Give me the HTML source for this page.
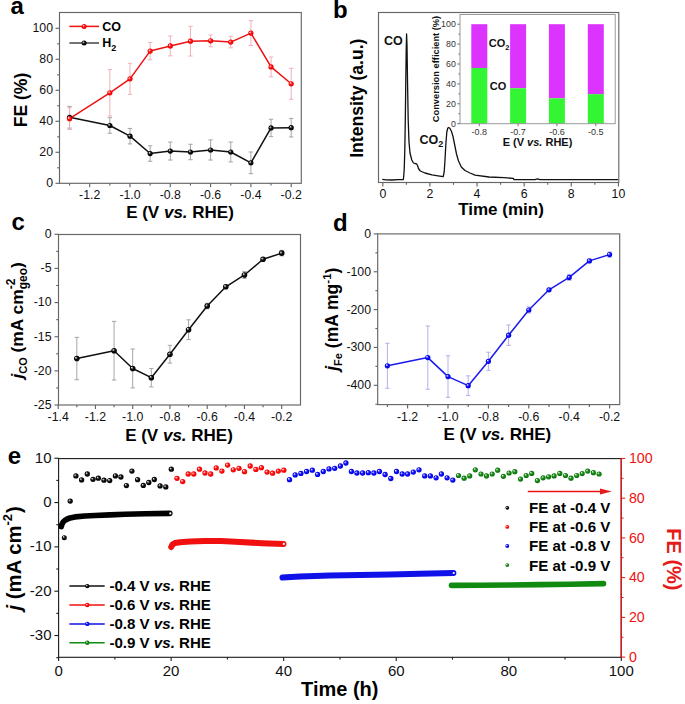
<!DOCTYPE html><html><head><meta charset="utf-8"><style>
html,body{margin:0;padding:0;background:#fff;width:685px;height:704px;overflow:hidden}
svg{display:block;font-family:"Liberation Sans", sans-serif}
</style></head><body>
<svg width="685" height="704" viewBox="0 0 685 704">
<defs>
<radialGradient id="gk" cx="50%" cy="50%" r="50%" fx="30%" fy="30%"><stop offset="0" stop-color="#fff"/><stop offset="0.22" stop-color="#999"/><stop offset="0.5" stop-color="#111"/><stop offset="1" stop-color="#000"/></radialGradient>
<radialGradient id="gr" cx="50%" cy="50%" r="50%" fx="30%" fy="30%"><stop offset="0" stop-color="#fff"/><stop offset="0.22" stop-color="#f99"/><stop offset="0.5" stop-color="#f11"/><stop offset="1" stop-color="#e00"/></radialGradient>
<radialGradient id="gb" cx="50%" cy="50%" r="50%" fx="30%" fy="30%"><stop offset="0" stop-color="#fff"/><stop offset="0.22" stop-color="#99f"/><stop offset="0.5" stop-color="#11f"/><stop offset="1" stop-color="#00d"/></radialGradient>
<radialGradient id="gg" cx="50%" cy="50%" r="50%" fx="30%" fy="30%"><stop offset="0" stop-color="#fff"/><stop offset="0.22" stop-color="#8c8"/><stop offset="0.5" stop-color="#1a8a1a"/><stop offset="1" stop-color="#0a700a"/></radialGradient>
</defs>
<rect width="685" height="704" fill="#fff"/>

<text x="10.5" y="14" font-size="24" text-anchor="start" font-weight="bold" fill="#000" >a</text>
<text x="333" y="17.7" font-size="24" text-anchor="start" font-weight="bold" fill="#000" >b</text>
<text x="11.5" y="229.5" font-size="24" text-anchor="start" font-weight="bold" fill="#000" >c</text>
<text x="333" y="230.8" font-size="24" text-anchor="start" font-weight="bold" fill="#000" >d</text>
<text x="7.8" y="464.1" font-size="24" text-anchor="start" font-weight="bold" fill="#000" >e</text>
<line x1="89.7" y1="183.3" x2="89.7" y2="187.3" stroke="#666" stroke-width="1.15" />
<text x="89.7" y="199.1" font-size="12.3" text-anchor="middle" font-weight="normal" fill="#111" >-1.2</text>
<line x1="130" y1="183.3" x2="130" y2="187.3" stroke="#666" stroke-width="1.15" />
<text x="130" y="199.1" font-size="12.3" text-anchor="middle" font-weight="normal" fill="#111" >-1.0</text>
<line x1="170.3" y1="183.3" x2="170.3" y2="187.3" stroke="#666" stroke-width="1.15" />
<text x="170.3" y="199.1" font-size="12.3" text-anchor="middle" font-weight="normal" fill="#111" >-0.8</text>
<line x1="210.6" y1="183.3" x2="210.6" y2="187.3" stroke="#666" stroke-width="1.15" />
<text x="210.6" y="199.1" font-size="12.3" text-anchor="middle" font-weight="normal" fill="#111" >-0.6</text>
<line x1="250.9" y1="183.3" x2="250.9" y2="187.3" stroke="#666" stroke-width="1.15" />
<text x="250.9" y="199.1" font-size="12.3" text-anchor="middle" font-weight="normal" fill="#111" >-0.4</text>
<line x1="291.2" y1="183.3" x2="291.2" y2="187.3" stroke="#666" stroke-width="1.15" />
<text x="291.2" y="199.1" font-size="12.3" text-anchor="middle" font-weight="normal" fill="#111" >-0.2</text>
<line x1="69.55" y1="183.3" x2="69.55" y2="185.6" stroke="#666" stroke-width="1.15" />
<line x1="109.85" y1="183.3" x2="109.85" y2="185.6" stroke="#666" stroke-width="1.15" />
<line x1="150.15" y1="183.3" x2="150.15" y2="185.6" stroke="#666" stroke-width="1.15" />
<line x1="190.45" y1="183.3" x2="190.45" y2="185.6" stroke="#666" stroke-width="1.15" />
<line x1="230.75" y1="183.3" x2="230.75" y2="185.6" stroke="#666" stroke-width="1.15" />
<line x1="271.05" y1="183.3" x2="271.05" y2="185.6" stroke="#666" stroke-width="1.15" />
<line x1="55.5" y1="183.3" x2="59.5" y2="183.3" stroke="#666" stroke-width="1.15" />
<text x="53" y="187.2" font-size="12.3" text-anchor="end" font-weight="normal" fill="#111" >0</text>
<line x1="55.5" y1="152.3" x2="59.5" y2="152.3" stroke="#666" stroke-width="1.15" />
<text x="53" y="156.2" font-size="12.3" text-anchor="end" font-weight="normal" fill="#111" >20</text>
<line x1="55.5" y1="121.3" x2="59.5" y2="121.3" stroke="#666" stroke-width="1.15" />
<text x="53" y="125.2" font-size="12.3" text-anchor="end" font-weight="normal" fill="#111" >40</text>
<line x1="55.5" y1="90.3" x2="59.5" y2="90.3" stroke="#666" stroke-width="1.15" />
<text x="53" y="94.2" font-size="12.3" text-anchor="end" font-weight="normal" fill="#111" >60</text>
<line x1="55.5" y1="59.3" x2="59.5" y2="59.3" stroke="#666" stroke-width="1.15" />
<text x="53" y="63.2" font-size="12.3" text-anchor="end" font-weight="normal" fill="#111" >80</text>
<line x1="55.5" y1="28.3" x2="59.5" y2="28.3" stroke="#666" stroke-width="1.15" />
<text x="53" y="32.2" font-size="12.3" text-anchor="end" font-weight="normal" fill="#111" >100</text>
<line x1="57.2" y1="167.8" x2="59.5" y2="167.8" stroke="#666" stroke-width="1.15" />
<line x1="57.2" y1="136.8" x2="59.5" y2="136.8" stroke="#666" stroke-width="1.15" />
<line x1="57.2" y1="105.8" x2="59.5" y2="105.8" stroke="#666" stroke-width="1.15" />
<line x1="57.2" y1="74.8" x2="59.5" y2="74.8" stroke="#666" stroke-width="1.15" />
<line x1="57.2" y1="43.8" x2="59.5" y2="43.8" stroke="#666" stroke-width="1.15" />
<rect x="59.5" y="12.5" width="241.8" height="170.8" fill="none" stroke="#666" stroke-width="1.15"/>
<line x1="69.55" y1="106.42" x2="69.55" y2="128.12" stroke="#9c9c9c" stroke-width="0.9" />
<line x1="67.35" y1="106.42" x2="71.75" y2="106.42" stroke="#9c9c9c" stroke-width="0.9" />
<line x1="67.35" y1="128.12" x2="71.75" y2="128.12" stroke="#9c9c9c" stroke-width="0.9" />
<line x1="109.85" y1="117.74" x2="109.85" y2="133.24" stroke="#9c9c9c" stroke-width="0.9" />
<line x1="107.65" y1="117.74" x2="112.05" y2="117.74" stroke="#9c9c9c" stroke-width="0.9" />
<line x1="107.65" y1="133.24" x2="112.05" y2="133.24" stroke="#9c9c9c" stroke-width="0.9" />
<line x1="130" y1="128.43" x2="130" y2="143.93" stroke="#9c9c9c" stroke-width="0.9" />
<line x1="127.8" y1="128.43" x2="132.2" y2="128.43" stroke="#9c9c9c" stroke-width="0.9" />
<line x1="127.8" y1="143.93" x2="132.2" y2="143.93" stroke="#9c9c9c" stroke-width="0.9" />
<line x1="150.15" y1="145.79" x2="150.15" y2="161.29" stroke="#9c9c9c" stroke-width="0.9" />
<line x1="147.95" y1="145.79" x2="152.35" y2="145.79" stroke="#9c9c9c" stroke-width="0.9" />
<line x1="147.95" y1="161.29" x2="152.35" y2="161.29" stroke="#9c9c9c" stroke-width="0.9" />
<line x1="170.3" y1="142.07" x2="170.3" y2="160.05" stroke="#9c9c9c" stroke-width="0.9" />
<line x1="168.1" y1="142.07" x2="172.5" y2="142.07" stroke="#9c9c9c" stroke-width="0.9" />
<line x1="168.1" y1="160.05" x2="172.5" y2="160.05" stroke="#9c9c9c" stroke-width="0.9" />
<line x1="190.45" y1="144.24" x2="190.45" y2="159.74" stroke="#9c9c9c" stroke-width="0.9" />
<line x1="188.25" y1="144.24" x2="192.65" y2="144.24" stroke="#9c9c9c" stroke-width="0.9" />
<line x1="188.25" y1="159.74" x2="192.65" y2="159.74" stroke="#9c9c9c" stroke-width="0.9" />
<line x1="210.6" y1="139.9" x2="210.6" y2="160.05" stroke="#9c9c9c" stroke-width="0.9" />
<line x1="208.4" y1="139.9" x2="212.8" y2="139.9" stroke="#9c9c9c" stroke-width="0.9" />
<line x1="208.4" y1="160.05" x2="212.8" y2="160.05" stroke="#9c9c9c" stroke-width="0.9" />
<line x1="230.75" y1="142.07" x2="230.75" y2="161.91" stroke="#9c9c9c" stroke-width="0.9" />
<line x1="228.55" y1="142.07" x2="232.95" y2="142.07" stroke="#9c9c9c" stroke-width="0.9" />
<line x1="228.55" y1="161.91" x2="232.95" y2="161.91" stroke="#9c9c9c" stroke-width="0.9" />
<line x1="250.9" y1="151.99" x2="250.9" y2="173.69" stroke="#9c9c9c" stroke-width="0.9" />
<line x1="248.7" y1="151.99" x2="253.1" y2="151.99" stroke="#9c9c9c" stroke-width="0.9" />
<line x1="248.7" y1="173.69" x2="253.1" y2="173.69" stroke="#9c9c9c" stroke-width="0.9" />
<line x1="271.05" y1="119.28" x2="271.05" y2="136.65" stroke="#9c9c9c" stroke-width="0.9" />
<line x1="268.85" y1="119.28" x2="273.25" y2="119.28" stroke="#9c9c9c" stroke-width="0.9" />
<line x1="268.85" y1="136.65" x2="273.25" y2="136.65" stroke="#9c9c9c" stroke-width="0.9" />
<line x1="291.2" y1="118.36" x2="291.2" y2="136.96" stroke="#9c9c9c" stroke-width="0.9" />
<line x1="289" y1="118.36" x2="293.4" y2="118.36" stroke="#9c9c9c" stroke-width="0.9" />
<line x1="289" y1="136.96" x2="293.4" y2="136.96" stroke="#9c9c9c" stroke-width="0.9" />
<line x1="69.55" y1="107.81" x2="69.55" y2="129.52" stroke="#f0b0b8" stroke-width="1.0" />
<line x1="67.35" y1="107.81" x2="71.75" y2="107.81" stroke="#f0b0b8" stroke-width="1.0" />
<line x1="67.35" y1="129.52" x2="71.75" y2="129.52" stroke="#f0b0b8" stroke-width="1.0" />
<line x1="109.85" y1="69.53" x2="109.85" y2="116.03" stroke="#f0b0b8" stroke-width="1.0" />
<line x1="107.65" y1="69.53" x2="112.05" y2="69.53" stroke="#f0b0b8" stroke-width="1.0" />
<line x1="107.65" y1="116.03" x2="112.05" y2="116.03" stroke="#f0b0b8" stroke-width="1.0" />
<line x1="130" y1="63.33" x2="130" y2="94.33" stroke="#f0b0b8" stroke-width="1.0" />
<line x1="127.8" y1="63.33" x2="132.2" y2="63.33" stroke="#f0b0b8" stroke-width="1.0" />
<line x1="127.8" y1="94.33" x2="132.2" y2="94.33" stroke="#f0b0b8" stroke-width="1.0" />
<line x1="150.15" y1="42.41" x2="150.15" y2="59.77" stroke="#f0b0b8" stroke-width="1.0" />
<line x1="147.95" y1="42.41" x2="152.35" y2="42.41" stroke="#f0b0b8" stroke-width="1.0" />
<line x1="147.95" y1="59.77" x2="152.35" y2="59.77" stroke="#f0b0b8" stroke-width="1.0" />
<line x1="170.3" y1="36.05" x2="170.3" y2="55.89" stroke="#f0b0b8" stroke-width="1.0" />
<line x1="168.1" y1="36.05" x2="172.5" y2="36.05" stroke="#f0b0b8" stroke-width="1.0" />
<line x1="168.1" y1="55.89" x2="172.5" y2="55.89" stroke="#f0b0b8" stroke-width="1.0" />
<line x1="190.45" y1="26.29" x2="190.45" y2="56.04" stroke="#f0b0b8" stroke-width="1.0" />
<line x1="188.25" y1="26.29" x2="192.65" y2="26.29" stroke="#f0b0b8" stroke-width="1.0" />
<line x1="188.25" y1="56.04" x2="192.65" y2="56.04" stroke="#f0b0b8" stroke-width="1.0" />
<line x1="210.6" y1="34.97" x2="210.6" y2="46.75" stroke="#f0b0b8" stroke-width="1.0" />
<line x1="208.4" y1="34.97" x2="212.8" y2="34.97" stroke="#f0b0b8" stroke-width="1.0" />
<line x1="208.4" y1="46.75" x2="212.8" y2="46.75" stroke="#f0b0b8" stroke-width="1.0" />
<line x1="230.75" y1="36.36" x2="230.75" y2="47.83" stroke="#f0b0b8" stroke-width="1.0" />
<line x1="228.55" y1="36.36" x2="232.95" y2="36.36" stroke="#f0b0b8" stroke-width="1.0" />
<line x1="228.55" y1="47.83" x2="232.95" y2="47.83" stroke="#f0b0b8" stroke-width="1.0" />
<line x1="250.9" y1="20.7" x2="250.9" y2="45.5" stroke="#f0b0b8" stroke-width="1.0" />
<line x1="248.7" y1="20.7" x2="253.1" y2="20.7" stroke="#f0b0b8" stroke-width="1.0" />
<line x1="248.7" y1="45.5" x2="253.1" y2="45.5" stroke="#f0b0b8" stroke-width="1.0" />
<line x1="271.05" y1="56.98" x2="271.05" y2="76.82" stroke="#f0b0b8" stroke-width="1.0" />
<line x1="268.85" y1="56.98" x2="273.25" y2="56.98" stroke="#f0b0b8" stroke-width="1.0" />
<line x1="268.85" y1="76.82" x2="273.25" y2="76.82" stroke="#f0b0b8" stroke-width="1.0" />
<line x1="291.2" y1="68.29" x2="291.2" y2="99.29" stroke="#f0b0b8" stroke-width="1.0" />
<line x1="289" y1="68.29" x2="293.4" y2="68.29" stroke="#f0b0b8" stroke-width="1.0" />
<line x1="289" y1="99.29" x2="293.4" y2="99.29" stroke="#f0b0b8" stroke-width="1.0" />
<polyline points="69.55,117.27 109.85,125.49 130,136.18 150.15,153.54 170.3,151.06 190.45,151.99 210.6,149.98 230.75,151.99 250.9,162.84 271.05,127.97 291.2,127.66" fill="none" stroke="#111" stroke-width="1.5" stroke-linejoin="round" />
<polyline points="69.55,118.67 109.85,92.78 130,78.83 150.15,51.09 170.3,45.97 190.45,41.16 210.6,40.85 230.75,42.1 250.9,33.1 271.05,66.9 291.2,83.79" fill="none" stroke="#ee1111" stroke-width="1.5" stroke-linejoin="round" />
<circle cx="69.55" cy="117.27" r="2.6" fill="url(#gk)"/>
<circle cx="109.85" cy="125.49" r="2.6" fill="url(#gk)"/>
<circle cx="130" cy="136.18" r="2.6" fill="url(#gk)"/>
<circle cx="150.15" cy="153.54" r="2.6" fill="url(#gk)"/>
<circle cx="170.3" cy="151.06" r="2.6" fill="url(#gk)"/>
<circle cx="190.45" cy="151.99" r="2.6" fill="url(#gk)"/>
<circle cx="210.6" cy="149.98" r="2.6" fill="url(#gk)"/>
<circle cx="230.75" cy="151.99" r="2.6" fill="url(#gk)"/>
<circle cx="250.9" cy="162.84" r="2.6" fill="url(#gk)"/>
<circle cx="271.05" cy="127.97" r="2.6" fill="url(#gk)"/>
<circle cx="291.2" cy="127.66" r="2.6" fill="url(#gk)"/>
<circle cx="69.55" cy="118.67" r="2.6" fill="url(#gr)"/>
<circle cx="109.85" cy="92.78" r="2.6" fill="url(#gr)"/>
<circle cx="130" cy="78.83" r="2.6" fill="url(#gr)"/>
<circle cx="150.15" cy="51.09" r="2.6" fill="url(#gr)"/>
<circle cx="170.3" cy="45.97" r="2.6" fill="url(#gr)"/>
<circle cx="190.45" cy="41.16" r="2.6" fill="url(#gr)"/>
<circle cx="210.6" cy="40.85" r="2.6" fill="url(#gr)"/>
<circle cx="230.75" cy="42.1" r="2.6" fill="url(#gr)"/>
<circle cx="250.9" cy="33.1" r="2.6" fill="url(#gr)"/>
<circle cx="271.05" cy="66.9" r="2.6" fill="url(#gr)"/>
<circle cx="291.2" cy="83.79" r="2.6" fill="url(#gr)"/>
<line x1="69.4" y1="26.4" x2="99" y2="26.4" stroke="#ee1111" stroke-width="1.5" />
<circle cx="84.1" cy="26.4" r="2.5" fill="url(#gr)"/>
<line x1="69.4" y1="43" x2="99" y2="43" stroke="#444" stroke-width="1.5" />
<circle cx="84.1" cy="43" r="2.5" fill="url(#gk)"/>
<text x="102.3" y="30.8" font-size="12.5" text-anchor="start" font-weight="bold" fill="#000" >CO</text>
<text x="102.3" y="47" font-size="12.5" text-anchor="start" font-weight="bold" fill="#000" >H<tspan font-size="9" dy="3.5">2</tspan></text>
<text x="180" y="217.5" font-size="17" text-anchor="middle" font-weight="bold" fill="#000" >E (V <tspan font-style="italic">vs.</tspan> RHE)</text>
<text transform="translate(27.2,100) rotate(-90)" font-size="17.6" font-weight="bold" text-anchor="middle" fill="#000">FE (%)</text>
<line x1="382.8" y1="182.5" x2="382.8" y2="186.5" stroke="#666" stroke-width="1.15" />
<text x="382.8" y="198.3" font-size="12.3" text-anchor="middle" font-weight="normal" fill="#111" >0</text>
<line x1="429.92" y1="182.5" x2="429.92" y2="186.5" stroke="#666" stroke-width="1.15" />
<text x="429.92" y="198.3" font-size="12.3" text-anchor="middle" font-weight="normal" fill="#111" >2</text>
<line x1="477.04" y1="182.5" x2="477.04" y2="186.5" stroke="#666" stroke-width="1.15" />
<text x="477.04" y="198.3" font-size="12.3" text-anchor="middle" font-weight="normal" fill="#111" >4</text>
<line x1="524.16" y1="182.5" x2="524.16" y2="186.5" stroke="#666" stroke-width="1.15" />
<text x="524.16" y="198.3" font-size="12.3" text-anchor="middle" font-weight="normal" fill="#111" >6</text>
<line x1="571.28" y1="182.5" x2="571.28" y2="186.5" stroke="#666" stroke-width="1.15" />
<text x="571.28" y="198.3" font-size="12.3" text-anchor="middle" font-weight="normal" fill="#111" >8</text>
<line x1="618.4" y1="182.5" x2="618.4" y2="186.5" stroke="#666" stroke-width="1.15" />
<text x="618.4" y="198.3" font-size="12.3" text-anchor="middle" font-weight="normal" fill="#111" >10</text>
<line x1="406.36" y1="182.5" x2="406.36" y2="184.8" stroke="#666" stroke-width="1.15" />
<line x1="453.48" y1="182.5" x2="453.48" y2="184.8" stroke="#666" stroke-width="1.15" />
<line x1="500.6" y1="182.5" x2="500.6" y2="184.8" stroke="#666" stroke-width="1.15" />
<line x1="547.72" y1="182.5" x2="547.72" y2="184.8" stroke="#666" stroke-width="1.15" />
<line x1="594.84" y1="182.5" x2="594.84" y2="184.8" stroke="#666" stroke-width="1.15" />
<rect x="378.5" y="12.5" width="240.3" height="170" fill="none" stroke="#666" stroke-width="1.15"/>
<polyline points="382.3,179.3 386,179.8 392,180 398,179.7 403.4,179.5 404.2,170 404.8,150 405.3,120 405.8,80 406.2,50 406.6,34 407,45 407.5,80 408.2,120 409,142 410,153 411.8,160 413.5,163 415,163.5 416.6,163.8 417.5,165.5 418.5,168.5 420.3,171 425,173 432,174.8 438,175.8 443.2,176.6 444.2,172 445,160 445.8,145 446.8,132 447.8,128 448.8,127.5 450,128.5 451.5,131.5 452.9,136 454.5,144 456.5,154 458.5,161 461.3,167 465,170.5 470,173 475,175.2 489,177 504,177.7 513.3,178.4 514,179.6 535,179.6 537.4,178.9 540,179.6 618,179.6" fill="none" stroke="#111" stroke-width="1.3" stroke-linejoin="round" />
<text x="384" y="45.4" font-size="12.5" text-anchor="start" font-weight="bold" fill="#111" >CO</text>
<text x="419.5" y="144.4" font-size="12.5" text-anchor="start" font-weight="bold" fill="#111" >CO<tspan font-size="9" dy="3">2</tspan></text>
<text x="501" y="215.2" font-size="17" text-anchor="middle" font-weight="bold" fill="#000" >Time (min)</text>
<text transform="translate(362.5,98.2) rotate(-90)" font-size="17.6" font-weight="bold" text-anchor="middle" fill="#000">Intensity (a.u.)</text>
<rect x="471.3" y="24.2" width="16" height="43.78" fill="#dd33ff" stroke="none" stroke-width="1"/>
<rect x="471.3" y="67.98" width="16" height="55.72" fill="#33f533" stroke="none" stroke-width="1"/>
<rect x="510.1" y="24.2" width="16" height="64.08" fill="#dd33ff" stroke="none" stroke-width="1"/>
<rect x="510.1" y="88.28" width="16" height="35.42" fill="#33f533" stroke="none" stroke-width="1"/>
<rect x="548.9" y="24.2" width="16" height="74.13" fill="#dd33ff" stroke="none" stroke-width="1"/>
<rect x="548.9" y="98.33" width="16" height="25.37" fill="#33f533" stroke="none" stroke-width="1"/>
<rect x="587.8" y="24.2" width="16" height="69.95" fill="#dd33ff" stroke="none" stroke-width="1"/>
<rect x="587.8" y="94.15" width="16" height="29.55" fill="#33f533" stroke="none" stroke-width="1"/>
<rect x="460" y="14.5" width="155.2" height="109.2" fill="none" stroke="#999" stroke-width="1"/>
<line x1="457.2" y1="123.7" x2="460" y2="123.7" stroke="#777" stroke-width="1" />
<text x="455.8" y="126.9" font-size="8.8" text-anchor="end" font-weight="normal" fill="#333" >0</text>
<line x1="457.2" y1="103.8" x2="460" y2="103.8" stroke="#777" stroke-width="1" />
<text x="455.8" y="107" font-size="8.8" text-anchor="end" font-weight="normal" fill="#333" >20</text>
<line x1="457.2" y1="83.9" x2="460" y2="83.9" stroke="#777" stroke-width="1" />
<text x="455.8" y="87.1" font-size="8.8" text-anchor="end" font-weight="normal" fill="#333" >40</text>
<line x1="457.2" y1="64" x2="460" y2="64" stroke="#777" stroke-width="1" />
<text x="455.8" y="67.2" font-size="8.8" text-anchor="end" font-weight="normal" fill="#333" >60</text>
<line x1="457.2" y1="44.1" x2="460" y2="44.1" stroke="#777" stroke-width="1" />
<text x="455.8" y="47.3" font-size="8.8" text-anchor="end" font-weight="normal" fill="#333" >80</text>
<line x1="457.2" y1="24.2" x2="460" y2="24.2" stroke="#777" stroke-width="1" />
<text x="455.8" y="27.4" font-size="8.8" text-anchor="end" font-weight="normal" fill="#333" >100</text>
<line x1="458.4" y1="113.75" x2="460" y2="113.75" stroke="#777" stroke-width="1" />
<line x1="458.4" y1="93.85" x2="460" y2="93.85" stroke="#777" stroke-width="1" />
<line x1="458.4" y1="73.95" x2="460" y2="73.95" stroke="#777" stroke-width="1" />
<line x1="458.4" y1="54.05" x2="460" y2="54.05" stroke="#777" stroke-width="1" />
<line x1="458.4" y1="34.15" x2="460" y2="34.15" stroke="#777" stroke-width="1" />
<line x1="479.3" y1="123.7" x2="479.3" y2="126.2" stroke="#777" stroke-width="1" />
<text x="479.3" y="134.8" font-size="9" text-anchor="middle" font-weight="normal" fill="#333" >-0.8</text>
<line x1="518.1" y1="123.7" x2="518.1" y2="126.2" stroke="#777" stroke-width="1" />
<text x="518.1" y="134.8" font-size="9" text-anchor="middle" font-weight="normal" fill="#333" >-0.7</text>
<line x1="556.9" y1="123.7" x2="556.9" y2="126.2" stroke="#777" stroke-width="1" />
<text x="556.9" y="134.8" font-size="9" text-anchor="middle" font-weight="normal" fill="#333" >-0.6</text>
<line x1="595.8" y1="123.7" x2="595.8" y2="126.2" stroke="#777" stroke-width="1" />
<text x="595.8" y="134.8" font-size="9" text-anchor="middle" font-weight="normal" fill="#333" >-0.5</text>
<text x="537.5" y="146.3" font-size="11" text-anchor="middle" font-weight="bold" fill="#111" >E (V <tspan font-style="italic">vs.</tspan> RHE)</text>
<text transform="translate(439.2,69) rotate(-90)" font-size="9.3" font-weight="bold" text-anchor="middle" fill="#111">Conversion efficient (%)</text>
<text x="488.8" y="47.2" font-size="11" text-anchor="start" font-weight="bold" fill="#111" >CO<tspan font-size="7.5" dy="2.8">2</tspan></text>
<text x="489.8" y="89.8" font-size="11" text-anchor="start" font-weight="bold" fill="#111" >CO</text>
<line x1="58.2" y1="405" x2="58.2" y2="409" stroke="#666" stroke-width="1.15" />
<text x="58.2" y="420.6" font-size="12.3" text-anchor="middle" font-weight="normal" fill="#111" >-1.4</text>
<line x1="95.45" y1="405" x2="95.45" y2="409" stroke="#666" stroke-width="1.15" />
<text x="95.45" y="420.6" font-size="12.3" text-anchor="middle" font-weight="normal" fill="#111" >-1.2</text>
<line x1="132.7" y1="405" x2="132.7" y2="409" stroke="#666" stroke-width="1.15" />
<text x="132.7" y="420.6" font-size="12.3" text-anchor="middle" font-weight="normal" fill="#111" >-1.0</text>
<line x1="169.95" y1="405" x2="169.95" y2="409" stroke="#666" stroke-width="1.15" />
<text x="169.95" y="420.6" font-size="12.3" text-anchor="middle" font-weight="normal" fill="#111" >-0.8</text>
<line x1="207.2" y1="405" x2="207.2" y2="409" stroke="#666" stroke-width="1.15" />
<text x="207.2" y="420.6" font-size="12.3" text-anchor="middle" font-weight="normal" fill="#111" >-0.6</text>
<line x1="244.45" y1="405" x2="244.45" y2="409" stroke="#666" stroke-width="1.15" />
<text x="244.45" y="420.6" font-size="12.3" text-anchor="middle" font-weight="normal" fill="#111" >-0.4</text>
<line x1="281.7" y1="405" x2="281.7" y2="409" stroke="#666" stroke-width="1.15" />
<text x="281.7" y="420.6" font-size="12.3" text-anchor="middle" font-weight="normal" fill="#111" >-0.2</text>
<line x1="76.82" y1="405" x2="76.82" y2="407.3" stroke="#666" stroke-width="1.15" />
<line x1="114.07" y1="405" x2="114.07" y2="407.3" stroke="#666" stroke-width="1.15" />
<line x1="151.32" y1="405" x2="151.32" y2="407.3" stroke="#666" stroke-width="1.15" />
<line x1="188.57" y1="405" x2="188.57" y2="407.3" stroke="#666" stroke-width="1.15" />
<line x1="225.82" y1="405" x2="225.82" y2="407.3" stroke="#666" stroke-width="1.15" />
<line x1="263.07" y1="405" x2="263.07" y2="407.3" stroke="#666" stroke-width="1.15" />
<line x1="54.5" y1="234.3" x2="58.5" y2="234.3" stroke="#666" stroke-width="1.15" />
<text x="51.5" y="238.2" font-size="12.3" text-anchor="end" font-weight="normal" fill="#111" >0</text>
<line x1="54.5" y1="268.44" x2="58.5" y2="268.44" stroke="#666" stroke-width="1.15" />
<text x="51.5" y="272.34" font-size="12.3" text-anchor="end" font-weight="normal" fill="#111" >-5</text>
<line x1="54.5" y1="302.58" x2="58.5" y2="302.58" stroke="#666" stroke-width="1.15" />
<text x="51.5" y="306.48" font-size="12.3" text-anchor="end" font-weight="normal" fill="#111" >-10</text>
<line x1="54.5" y1="336.72" x2="58.5" y2="336.72" stroke="#666" stroke-width="1.15" />
<text x="51.5" y="340.62" font-size="12.3" text-anchor="end" font-weight="normal" fill="#111" >-15</text>
<line x1="54.5" y1="370.86" x2="58.5" y2="370.86" stroke="#666" stroke-width="1.15" />
<text x="51.5" y="374.76" font-size="12.3" text-anchor="end" font-weight="normal" fill="#111" >-20</text>
<line x1="54.5" y1="405" x2="58.5" y2="405" stroke="#666" stroke-width="1.15" />
<text x="51.5" y="408.9" font-size="12.3" text-anchor="end" font-weight="normal" fill="#111" >-25</text>
<line x1="56.2" y1="251.37" x2="58.5" y2="251.37" stroke="#666" stroke-width="1.15" />
<line x1="56.2" y1="285.51" x2="58.5" y2="285.51" stroke="#666" stroke-width="1.15" />
<line x1="56.2" y1="319.65" x2="58.5" y2="319.65" stroke="#666" stroke-width="1.15" />
<line x1="56.2" y1="353.79" x2="58.5" y2="353.79" stroke="#666" stroke-width="1.15" />
<line x1="56.2" y1="387.93" x2="58.5" y2="387.93" stroke="#666" stroke-width="1.15" />
<rect x="58.5" y="234.5" width="242" height="170.5" fill="none" stroke="#666" stroke-width="1.15"/>
<line x1="76.82" y1="337.4" x2="76.82" y2="379.74" stroke="#9c9c9c" stroke-width="0.9" />
<line x1="74.62" y1="337.4" x2="79.02" y2="337.4" stroke="#9c9c9c" stroke-width="0.9" />
<line x1="74.62" y1="379.74" x2="79.02" y2="379.74" stroke="#9c9c9c" stroke-width="0.9" />
<line x1="114.07" y1="321.36" x2="114.07" y2="380.08" stroke="#9c9c9c" stroke-width="0.9" />
<line x1="111.87" y1="321.36" x2="116.27" y2="321.36" stroke="#9c9c9c" stroke-width="0.9" />
<line x1="111.87" y1="380.08" x2="116.27" y2="380.08" stroke="#9c9c9c" stroke-width="0.9" />
<line x1="132.7" y1="349.01" x2="132.7" y2="387.93" stroke="#9c9c9c" stroke-width="0.9" />
<line x1="130.5" y1="349.01" x2="134.9" y2="349.01" stroke="#9c9c9c" stroke-width="0.9" />
<line x1="130.5" y1="387.93" x2="134.9" y2="387.93" stroke="#9c9c9c" stroke-width="0.9" />
<line x1="151.32" y1="368.47" x2="151.32" y2="386.91" stroke="#9c9c9c" stroke-width="0.9" />
<line x1="149.12" y1="368.47" x2="153.52" y2="368.47" stroke="#9c9c9c" stroke-width="0.9" />
<line x1="149.12" y1="386.91" x2="153.52" y2="386.91" stroke="#9c9c9c" stroke-width="0.9" />
<line x1="169.95" y1="345.32" x2="169.95" y2="363.08" stroke="#9c9c9c" stroke-width="0.9" />
<line x1="167.75" y1="345.32" x2="172.15" y2="345.32" stroke="#9c9c9c" stroke-width="0.9" />
<line x1="167.75" y1="363.08" x2="172.15" y2="363.08" stroke="#9c9c9c" stroke-width="0.9" />
<line x1="188.57" y1="319.79" x2="188.57" y2="339.59" stroke="#9c9c9c" stroke-width="0.9" />
<line x1="186.38" y1="319.79" x2="190.77" y2="319.79" stroke="#9c9c9c" stroke-width="0.9" />
<line x1="186.38" y1="339.59" x2="190.77" y2="339.59" stroke="#9c9c9c" stroke-width="0.9" />
<line x1="207.2" y1="303.26" x2="207.2" y2="308.73" stroke="#9c9c9c" stroke-width="0.9" />
<line x1="205" y1="303.26" x2="209.4" y2="303.26" stroke="#9c9c9c" stroke-width="0.9" />
<line x1="205" y1="308.73" x2="209.4" y2="308.73" stroke="#9c9c9c" stroke-width="0.9" />
<line x1="225.82" y1="285.44" x2="225.82" y2="288.17" stroke="#9c9c9c" stroke-width="0.9" />
<line x1="223.62" y1="285.44" x2="228.02" y2="285.44" stroke="#9c9c9c" stroke-width="0.9" />
<line x1="223.62" y1="288.17" x2="228.02" y2="288.17" stroke="#9c9c9c" stroke-width="0.9" />
<line x1="244.45" y1="271.58" x2="244.45" y2="278.41" stroke="#9c9c9c" stroke-width="0.9" />
<line x1="242.25" y1="271.58" x2="246.65" y2="271.58" stroke="#9c9c9c" stroke-width="0.9" />
<line x1="242.25" y1="278.41" x2="246.65" y2="278.41" stroke="#9c9c9c" stroke-width="0.9" />
<line x1="263.07" y1="257.92" x2="263.07" y2="260.66" stroke="#9c9c9c" stroke-width="0.9" />
<line x1="260.88" y1="257.92" x2="265.27" y2="257.92" stroke="#9c9c9c" stroke-width="0.9" />
<line x1="260.88" y1="260.66" x2="265.27" y2="260.66" stroke="#9c9c9c" stroke-width="0.9" />
<line x1="281.7" y1="250.41" x2="281.7" y2="255.88" stroke="#9c9c9c" stroke-width="0.9" />
<line x1="279.5" y1="250.41" x2="283.9" y2="250.41" stroke="#9c9c9c" stroke-width="0.9" />
<line x1="279.5" y1="255.88" x2="283.9" y2="255.88" stroke="#9c9c9c" stroke-width="0.9" />
<polyline points="76.82,358.57 114.07,350.72 132.7,368.47 151.32,377.69 169.95,354.2 188.57,329.69 207.2,305.99 225.82,286.81 244.45,274.99 263.07,259.29 281.7,253.15" fill="none" stroke="#111" stroke-width="1.5" stroke-linejoin="round" />
<circle cx="76.82" cy="358.57" r="2.8" fill="url(#gk)"/>
<circle cx="114.07" cy="350.72" r="2.8" fill="url(#gk)"/>
<circle cx="132.7" cy="368.47" r="2.8" fill="url(#gk)"/>
<circle cx="151.32" cy="377.69" r="2.8" fill="url(#gk)"/>
<circle cx="169.95" cy="354.2" r="2.8" fill="url(#gk)"/>
<circle cx="188.57" cy="329.69" r="2.8" fill="url(#gk)"/>
<circle cx="207.2" cy="305.99" r="2.8" fill="url(#gk)"/>
<circle cx="225.82" cy="286.81" r="2.8" fill="url(#gk)"/>
<circle cx="244.45" cy="274.99" r="2.8" fill="url(#gk)"/>
<circle cx="263.07" cy="259.29" r="2.8" fill="url(#gk)"/>
<circle cx="281.7" cy="253.15" r="2.8" fill="url(#gk)"/>
<text x="179" y="440.9" font-size="17" text-anchor="middle" font-weight="bold" fill="#000" >E (V <tspan font-style="italic">vs.</tspan> RHE)</text>
<text transform="translate(23.3,320.4) rotate(-90)" font-size="17.4" font-weight="bold" text-anchor="middle" fill="#000"><tspan font-style="italic">j</tspan><tspan font-size="11" dy="3.6">CO</tspan><tspan dy="-3.6"> (mA cm</tspan><tspan font-size="12" dy="-8.3">-2</tspan><tspan font-size="12" dx="-10.67" dy="12.1">geo</tspan><tspan dy="-3.8">)</tspan></text>
<line x1="407.6" y1="404.6" x2="407.6" y2="408.6" stroke="#666" stroke-width="1.15" />
<text x="407.6" y="420.6" font-size="12.3" text-anchor="middle" font-weight="normal" fill="#111" >-1.2</text>
<line x1="448" y1="404.6" x2="448" y2="408.6" stroke="#666" stroke-width="1.15" />
<text x="448" y="420.6" font-size="12.3" text-anchor="middle" font-weight="normal" fill="#111" >-1.0</text>
<line x1="488.4" y1="404.6" x2="488.4" y2="408.6" stroke="#666" stroke-width="1.15" />
<text x="488.4" y="420.6" font-size="12.3" text-anchor="middle" font-weight="normal" fill="#111" >-0.8</text>
<line x1="528.8" y1="404.6" x2="528.8" y2="408.6" stroke="#666" stroke-width="1.15" />
<text x="528.8" y="420.6" font-size="12.3" text-anchor="middle" font-weight="normal" fill="#111" >-0.6</text>
<line x1="569.2" y1="404.6" x2="569.2" y2="408.6" stroke="#666" stroke-width="1.15" />
<text x="569.2" y="420.6" font-size="12.3" text-anchor="middle" font-weight="normal" fill="#111" >-0.4</text>
<line x1="609.6" y1="404.6" x2="609.6" y2="408.6" stroke="#666" stroke-width="1.15" />
<text x="609.6" y="420.6" font-size="12.3" text-anchor="middle" font-weight="normal" fill="#111" >-0.2</text>
<line x1="387.4" y1="404.6" x2="387.4" y2="406.9" stroke="#666" stroke-width="1.15" />
<line x1="427.8" y1="404.6" x2="427.8" y2="406.9" stroke="#666" stroke-width="1.15" />
<line x1="468.2" y1="404.6" x2="468.2" y2="406.9" stroke="#666" stroke-width="1.15" />
<line x1="508.6" y1="404.6" x2="508.6" y2="406.9" stroke="#666" stroke-width="1.15" />
<line x1="549" y1="404.6" x2="549" y2="406.9" stroke="#666" stroke-width="1.15" />
<line x1="589.4" y1="404.6" x2="589.4" y2="406.9" stroke="#666" stroke-width="1.15" />
<line x1="373.7" y1="233.9" x2="377.7" y2="233.9" stroke="#666" stroke-width="1.15" />
<text x="371" y="237.8" font-size="12.3" text-anchor="end" font-weight="normal" fill="#111" >0</text>
<line x1="373.7" y1="271.75" x2="377.7" y2="271.75" stroke="#666" stroke-width="1.15" />
<text x="371" y="275.65" font-size="12.3" text-anchor="end" font-weight="normal" fill="#111" >-100</text>
<line x1="373.7" y1="309.6" x2="377.7" y2="309.6" stroke="#666" stroke-width="1.15" />
<text x="371" y="313.5" font-size="12.3" text-anchor="end" font-weight="normal" fill="#111" >-200</text>
<line x1="373.7" y1="347.45" x2="377.7" y2="347.45" stroke="#666" stroke-width="1.15" />
<text x="371" y="351.35" font-size="12.3" text-anchor="end" font-weight="normal" fill="#111" >-300</text>
<line x1="373.7" y1="385.3" x2="377.7" y2="385.3" stroke="#666" stroke-width="1.15" />
<text x="371" y="389.2" font-size="12.3" text-anchor="end" font-weight="normal" fill="#111" >-400</text>
<line x1="375.4" y1="252.83" x2="377.7" y2="252.83" stroke="#666" stroke-width="1.15" />
<line x1="375.4" y1="290.68" x2="377.7" y2="290.68" stroke="#666" stroke-width="1.15" />
<line x1="375.4" y1="328.52" x2="377.7" y2="328.52" stroke="#666" stroke-width="1.15" />
<line x1="375.4" y1="366.38" x2="377.7" y2="366.38" stroke="#666" stroke-width="1.15" />
<line x1="375.4" y1="404.23" x2="377.7" y2="404.23" stroke="#666" stroke-width="1.15" />
<rect x="377.7" y="233.9" width="242" height="170.7" fill="none" stroke="#666" stroke-width="1.15"/>
<line x1="387.4" y1="343.32" x2="387.4" y2="388.29" stroke="#a8aae8" stroke-width="0.9" />
<line x1="385.2" y1="343.32" x2="389.6" y2="343.32" stroke="#a8aae8" stroke-width="0.9" />
<line x1="385.2" y1="388.29" x2="389.6" y2="388.29" stroke="#a8aae8" stroke-width="0.9" />
<line x1="427.8" y1="325.95" x2="427.8" y2="389.24" stroke="#a8aae8" stroke-width="0.9" />
<line x1="425.6" y1="325.95" x2="430" y2="325.95" stroke="#a8aae8" stroke-width="0.9" />
<line x1="425.6" y1="389.24" x2="430" y2="389.24" stroke="#a8aae8" stroke-width="0.9" />
<line x1="448" y1="355.78" x2="448" y2="397.41" stroke="#a8aae8" stroke-width="0.9" />
<line x1="445.8" y1="355.78" x2="450.2" y2="355.78" stroke="#a8aae8" stroke-width="0.9" />
<line x1="445.8" y1="397.41" x2="450.2" y2="397.41" stroke="#a8aae8" stroke-width="0.9" />
<line x1="468.2" y1="375.84" x2="468.2" y2="395.52" stroke="#a8aae8" stroke-width="0.9" />
<line x1="466" y1="375.84" x2="470.4" y2="375.84" stroke="#a8aae8" stroke-width="0.9" />
<line x1="466" y1="395.52" x2="470.4" y2="395.52" stroke="#a8aae8" stroke-width="0.9" />
<line x1="488.4" y1="352.22" x2="488.4" y2="370.39" stroke="#a8aae8" stroke-width="0.9" />
<line x1="486.2" y1="352.22" x2="490.6" y2="352.22" stroke="#a8aae8" stroke-width="0.9" />
<line x1="486.2" y1="370.39" x2="490.6" y2="370.39" stroke="#a8aae8" stroke-width="0.9" />
<line x1="508.6" y1="324.97" x2="508.6" y2="345.41" stroke="#a8aae8" stroke-width="0.9" />
<line x1="506.4" y1="324.97" x2="510.8" y2="324.97" stroke="#a8aae8" stroke-width="0.9" />
<line x1="506.4" y1="345.41" x2="510.8" y2="345.41" stroke="#a8aae8" stroke-width="0.9" />
<line x1="528.8" y1="306.95" x2="528.8" y2="313.01" stroke="#a8aae8" stroke-width="0.9" />
<line x1="526.6" y1="306.95" x2="531" y2="306.95" stroke="#a8aae8" stroke-width="0.9" />
<line x1="526.6" y1="313.01" x2="531" y2="313.01" stroke="#a8aae8" stroke-width="0.9" />
<line x1="549" y1="288.29" x2="549" y2="291.32" stroke="#a8aae8" stroke-width="0.9" />
<line x1="546.8" y1="288.29" x2="551.2" y2="288.29" stroke="#a8aae8" stroke-width="0.9" />
<line x1="546.8" y1="291.32" x2="551.2" y2="291.32" stroke="#a8aae8" stroke-width="0.9" />
<line x1="569.2" y1="274.36" x2="569.2" y2="280.42" stroke="#a8aae8" stroke-width="0.9" />
<line x1="567" y1="274.36" x2="571.4" y2="274.36" stroke="#a8aae8" stroke-width="0.9" />
<line x1="567" y1="280.42" x2="571.4" y2="280.42" stroke="#a8aae8" stroke-width="0.9" />
<line x1="589.4" y1="259.37" x2="589.4" y2="262.4" stroke="#a8aae8" stroke-width="0.9" />
<line x1="587.2" y1="259.37" x2="591.6" y2="259.37" stroke="#a8aae8" stroke-width="0.9" />
<line x1="587.2" y1="262.4" x2="591.6" y2="262.4" stroke="#a8aae8" stroke-width="0.9" />
<line x1="609.6" y1="251.95" x2="609.6" y2="257.25" stroke="#a8aae8" stroke-width="0.9" />
<line x1="607.4" y1="251.95" x2="611.8" y2="251.95" stroke="#a8aae8" stroke-width="0.9" />
<line x1="607.4" y1="257.25" x2="611.8" y2="257.25" stroke="#a8aae8" stroke-width="0.9" />
<polyline points="387.4,365.81 427.8,357.59 448,376.59 468.2,385.68 488.4,361.3 508.6,335.19 528.8,309.98 549,289.8 569.2,277.39 589.4,260.89 609.6,254.6" fill="none" stroke="#1a1aee" stroke-width="1.5" stroke-linejoin="round" />
<circle cx="387.4" cy="365.81" r="2.6" fill="url(#gb)"/>
<circle cx="427.8" cy="357.59" r="2.6" fill="url(#gb)"/>
<circle cx="448" cy="376.59" r="2.6" fill="url(#gb)"/>
<circle cx="468.2" cy="385.68" r="2.6" fill="url(#gb)"/>
<circle cx="488.4" cy="361.3" r="2.6" fill="url(#gb)"/>
<circle cx="508.6" cy="335.19" r="2.6" fill="url(#gb)"/>
<circle cx="528.8" cy="309.98" r="2.6" fill="url(#gb)"/>
<circle cx="549" cy="289.8" r="2.6" fill="url(#gb)"/>
<circle cx="569.2" cy="277.39" r="2.6" fill="url(#gb)"/>
<circle cx="589.4" cy="260.89" r="2.6" fill="url(#gb)"/>
<circle cx="609.6" cy="254.6" r="2.6" fill="url(#gb)"/>
<text x="497.4" y="440.3" font-size="17" text-anchor="middle" font-weight="bold" fill="#000" >E (V <tspan font-style="italic">vs.</tspan> RHE)</text>
<text transform="translate(338.4,319.2) rotate(-90)" font-size="17.5" font-weight="bold" text-anchor="middle" fill="#000"><tspan font-style="italic">j</tspan><tspan font-size="11" dy="3.6">Fe</tspan><tspan dy="-3.6"> (mA mg</tspan><tspan font-size="11.5" dy="-7.2">-1</tspan><tspan dy="7.2">)</tspan></text>
<line x1="58.6" y1="657.3" x2="58.6" y2="661.1" stroke="#1a1a1a" stroke-width="1.1" />
<text x="58.6" y="676.2" font-size="15" text-anchor="middle" font-weight="normal" fill="#111" >0</text>
<line x1="171.14" y1="657.3" x2="171.14" y2="661.1" stroke="#1a1a1a" stroke-width="1.1" />
<text x="171.14" y="676.2" font-size="15" text-anchor="middle" font-weight="normal" fill="#111" >20</text>
<line x1="283.68" y1="657.3" x2="283.68" y2="661.1" stroke="#1a1a1a" stroke-width="1.1" />
<text x="283.68" y="676.2" font-size="15" text-anchor="middle" font-weight="normal" fill="#111" >40</text>
<line x1="396.22" y1="657.3" x2="396.22" y2="661.1" stroke="#1a1a1a" stroke-width="1.1" />
<text x="396.22" y="676.2" font-size="15" text-anchor="middle" font-weight="normal" fill="#111" >60</text>
<line x1="508.76" y1="657.3" x2="508.76" y2="661.1" stroke="#1a1a1a" stroke-width="1.1" />
<text x="508.76" y="676.2" font-size="15" text-anchor="middle" font-weight="normal" fill="#111" >80</text>
<line x1="621.3" y1="657.3" x2="621.3" y2="661.1" stroke="#1a1a1a" stroke-width="1.1" />
<text x="621.3" y="676.2" font-size="15" text-anchor="middle" font-weight="normal" fill="#111" >100</text>
<line x1="114.87" y1="657.3" x2="114.87" y2="659.6" stroke="#1a1a1a" stroke-width="1.1" />
<line x1="227.41" y1="657.3" x2="227.41" y2="659.6" stroke="#1a1a1a" stroke-width="1.1" />
<line x1="339.95" y1="657.3" x2="339.95" y2="659.6" stroke="#1a1a1a" stroke-width="1.1" />
<line x1="452.49" y1="657.3" x2="452.49" y2="659.6" stroke="#1a1a1a" stroke-width="1.1" />
<line x1="565.03" y1="657.3" x2="565.03" y2="659.6" stroke="#1a1a1a" stroke-width="1.1" />
<line x1="54.4" y1="458.23" x2="58.6" y2="458.23" stroke="#1a1a1a" stroke-width="1.1" />
<text x="51.5" y="462.83" font-size="15" text-anchor="end" font-weight="normal" fill="#111" >10</text>
<line x1="54.4" y1="502.55" x2="58.6" y2="502.55" stroke="#1a1a1a" stroke-width="1.1" />
<text x="51.5" y="507.15" font-size="15" text-anchor="end" font-weight="normal" fill="#111" >0</text>
<line x1="54.4" y1="546.87" x2="58.6" y2="546.87" stroke="#1a1a1a" stroke-width="1.1" />
<text x="51.5" y="551.47" font-size="15" text-anchor="end" font-weight="normal" fill="#111" >-10</text>
<line x1="54.4" y1="591.19" x2="58.6" y2="591.19" stroke="#1a1a1a" stroke-width="1.1" />
<text x="51.5" y="595.79" font-size="15" text-anchor="end" font-weight="normal" fill="#111" >-20</text>
<line x1="54.4" y1="635.51" x2="58.6" y2="635.51" stroke="#1a1a1a" stroke-width="1.1" />
<text x="51.5" y="640.11" font-size="15" text-anchor="end" font-weight="normal" fill="#111" >-30</text>
<line x1="56.3" y1="480.39" x2="58.6" y2="480.39" stroke="#1a1a1a" stroke-width="1.1" />
<line x1="56.3" y1="524.71" x2="58.6" y2="524.71" stroke="#1a1a1a" stroke-width="1.1" />
<line x1="56.3" y1="569.03" x2="58.6" y2="569.03" stroke="#1a1a1a" stroke-width="1.1" />
<line x1="56.3" y1="613.35" x2="58.6" y2="613.35" stroke="#1a1a1a" stroke-width="1.1" />
<line x1="56.3" y1="657.67" x2="58.6" y2="657.67" stroke="#1a1a1a" stroke-width="1.1" />
<rect x="58.6" y="458.6" width="562.6" height="198.7" fill="none" stroke="#1a1a1a" stroke-width="1.1"/>
<line x1="621.2" y1="458.6" x2="621.2" y2="657.3" stroke="#ee1111" stroke-width="1.2" />
<line x1="621.2" y1="657.1" x2="625.2" y2="657.1" stroke="#ee1111" stroke-width="1" />
<text x="628.9" y="661.8" font-size="14.2" text-anchor="start" font-weight="normal" fill="#ee1111" >0</text>
<line x1="621.2" y1="617.37" x2="625.2" y2="617.37" stroke="#ee1111" stroke-width="1" />
<text x="628.9" y="622.07" font-size="14.2" text-anchor="start" font-weight="normal" fill="#ee1111" >20</text>
<line x1="621.2" y1="577.64" x2="625.2" y2="577.64" stroke="#ee1111" stroke-width="1" />
<text x="628.9" y="582.34" font-size="14.2" text-anchor="start" font-weight="normal" fill="#ee1111" >40</text>
<line x1="621.2" y1="537.91" x2="625.2" y2="537.91" stroke="#ee1111" stroke-width="1" />
<text x="628.9" y="542.61" font-size="14.2" text-anchor="start" font-weight="normal" fill="#ee1111" >60</text>
<line x1="621.2" y1="498.18" x2="625.2" y2="498.18" stroke="#ee1111" stroke-width="1" />
<text x="628.9" y="502.88" font-size="14.2" text-anchor="start" font-weight="normal" fill="#ee1111" >80</text>
<line x1="621.2" y1="458.45" x2="625.2" y2="458.45" stroke="#ee1111" stroke-width="1" />
<text x="628.9" y="463.15" font-size="14.2" text-anchor="start" font-weight="normal" fill="#ee1111" >100</text>
<line x1="621.2" y1="637.24" x2="623.5" y2="637.24" stroke="#ee1111" stroke-width="1" />
<line x1="621.2" y1="597.5" x2="623.5" y2="597.5" stroke="#ee1111" stroke-width="1" />
<line x1="621.2" y1="557.77" x2="623.5" y2="557.77" stroke="#ee1111" stroke-width="1" />
<line x1="621.2" y1="518.05" x2="623.5" y2="518.05" stroke="#ee1111" stroke-width="1" />
<line x1="621.2" y1="478.32" x2="623.5" y2="478.32" stroke="#ee1111" stroke-width="1" />
<text transform="translate(666.8,559.4) rotate(90)" font-size="20" font-weight="bold" text-anchor="middle" fill="#e51b1b">FE (%)</text>
<text x="339.8" y="696" font-size="20" text-anchor="middle" font-weight="bold" fill="#000" >Time (h)</text>
<text transform="translate(20.5,558.3) rotate(-90)" font-size="20.3" font-weight="bold" text-anchor="middle" fill="#000"><tspan font-style="italic">j</tspan> (mA cm<tspan font-size="13" dy="-8.6">-2</tspan><tspan dy="8.6" dx="1">)</tspan></text>
<polyline points="61.3,526.6 61.8,524.6 62.9,522.4 64.6,520.6 67.3,519 70,518 75,516.9 85,516 95,515.5 110,514.9 125,514.3 145,513.8 169.8,513.4" fill="none" stroke="#000" stroke-width="5.6" stroke-linejoin="round" stroke-linecap="round"/>
<circle cx="170.3" cy="513.4" r="1.1" fill="#fff"/>
<circle cx="64.3" cy="537.7" r="2.5" fill="url(#gk)"/>
<polyline points="171.2,547 172.4,544.6 175,543 180,542.2 190,541.5 205,541 221,541.1 240,542 262,543.2 283.5,544" fill="none" stroke="#f01010" stroke-width="6" stroke-linejoin="round" stroke-linecap="round"/>
<circle cx="283.8" cy="543.9" r="1.1" fill="#fff"/>
<polyline points="282.5,577.6 300,576.5 330,575.6 360,575 390,574.5 420,573.8 453.4,573" fill="none" stroke="#1010e8" stroke-width="6" stroke-linejoin="round" stroke-linecap="round"/>
<circle cx="453.7" cy="573" r="1.1" fill="#fff"/>
<polyline points="451.5,585.4 480,585.2 510,585 540,584.6 570,584.2 603.5,583.6" fill="none" stroke="#118a11" stroke-width="5.6" stroke-linejoin="round" stroke-linecap="round"/>
<circle cx="70.2" cy="501.1" r="2.65" fill="url(#gk)"/>
<circle cx="75.9" cy="475.9" r="2.65" fill="url(#gk)"/>
<circle cx="81.6" cy="479.9" r="2.65" fill="url(#gk)"/>
<circle cx="87.3" cy="474" r="2.65" fill="url(#gk)"/>
<circle cx="93" cy="479.3" r="2.65" fill="url(#gk)"/>
<circle cx="98.3" cy="478.2" r="2.65" fill="url(#gk)"/>
<circle cx="104" cy="480.2" r="2.65" fill="url(#gk)"/>
<circle cx="109.7" cy="480.6" r="2.65" fill="url(#gk)"/>
<circle cx="115.4" cy="475.9" r="2.65" fill="url(#gk)"/>
<circle cx="120.9" cy="477" r="2.65" fill="url(#gk)"/>
<circle cx="126.4" cy="485.6" r="2.65" fill="url(#gk)"/>
<circle cx="131.9" cy="471.1" r="2.65" fill="url(#gk)"/>
<circle cx="137.6" cy="479.7" r="2.65" fill="url(#gk)"/>
<circle cx="143.3" cy="485.4" r="2.65" fill="url(#gk)"/>
<circle cx="148.8" cy="482.5" r="2.65" fill="url(#gk)"/>
<circle cx="154.3" cy="479.5" r="2.65" fill="url(#gk)"/>
<circle cx="160.1" cy="485.9" r="2.65" fill="url(#gk)"/>
<circle cx="165.8" cy="486.9" r="2.65" fill="url(#gk)"/>
<circle cx="171.3" cy="469.2" r="2.65" fill="url(#gk)"/>
<circle cx="177" cy="478.3" r="2.65" fill="url(#gr)"/>
<circle cx="182.7" cy="481.6" r="2.65" fill="url(#gr)"/>
<circle cx="188.2" cy="474" r="2.65" fill="url(#gr)"/>
<circle cx="193.8" cy="474" r="2.65" fill="url(#gr)"/>
<circle cx="199.5" cy="469.2" r="2.65" fill="url(#gr)"/>
<circle cx="205" cy="473" r="2.65" fill="url(#gr)"/>
<circle cx="210.7" cy="474" r="2.65" fill="url(#gr)"/>
<circle cx="216.2" cy="467.9" r="2.65" fill="url(#gr)"/>
<circle cx="221.9" cy="471.1" r="2.65" fill="url(#gr)"/>
<circle cx="227.6" cy="465.1" r="2.65" fill="url(#gr)"/>
<circle cx="233.3" cy="469.8" r="2.65" fill="url(#gr)"/>
<circle cx="239" cy="468.3" r="2.65" fill="url(#gr)"/>
<circle cx="244.5" cy="471.7" r="2.65" fill="url(#gr)"/>
<circle cx="250.2" cy="466" r="2.65" fill="url(#gr)"/>
<circle cx="255.9" cy="469.4" r="2.65" fill="url(#gr)"/>
<circle cx="261.4" cy="467.7" r="2.65" fill="url(#gr)"/>
<circle cx="267.1" cy="472.1" r="2.65" fill="url(#gr)"/>
<circle cx="272.6" cy="473.2" r="2.65" fill="url(#gr)"/>
<circle cx="278.3" cy="471.1" r="2.65" fill="url(#gr)"/>
<circle cx="283.8" cy="470.2" r="2.65" fill="url(#gr)"/>
<circle cx="289.5" cy="479.7" r="2.65" fill="url(#gb)"/>
<circle cx="295.2" cy="474.9" r="2.65" fill="url(#gb)"/>
<circle cx="300.9" cy="473.4" r="2.65" fill="url(#gb)"/>
<circle cx="306.6" cy="471.5" r="2.65" fill="url(#gb)"/>
<circle cx="312.3" cy="470.2" r="2.65" fill="url(#gb)"/>
<circle cx="317.6" cy="474.4" r="2.65" fill="url(#gb)"/>
<circle cx="323.3" cy="471.5" r="2.65" fill="url(#gb)"/>
<circle cx="329" cy="468.9" r="2.65" fill="url(#gb)"/>
<circle cx="334.7" cy="468.3" r="2.65" fill="url(#gb)"/>
<circle cx="340.4" cy="466" r="2.65" fill="url(#gb)"/>
<circle cx="345.9" cy="463" r="2.65" fill="url(#gb)"/>
<circle cx="351.4" cy="471.5" r="2.65" fill="url(#gb)"/>
<circle cx="356.9" cy="473" r="2.65" fill="url(#gb)"/>
<circle cx="362.6" cy="473" r="2.65" fill="url(#gb)"/>
<circle cx="368.3" cy="472.7" r="2.65" fill="url(#gb)"/>
<circle cx="373.9" cy="473" r="2.65" fill="url(#gb)"/>
<circle cx="379.4" cy="471.5" r="2.65" fill="url(#gb)"/>
<circle cx="385.1" cy="474.5" r="2.65" fill="url(#gb)"/>
<circle cx="390.8" cy="478.5" r="2.65" fill="url(#gb)"/>
<circle cx="396.5" cy="471.5" r="2.65" fill="url(#gb)"/>
<circle cx="402.2" cy="474" r="2.65" fill="url(#gb)"/>
<circle cx="407.6" cy="474" r="2.65" fill="url(#gb)"/>
<circle cx="413.3" cy="472.1" r="2.65" fill="url(#gb)"/>
<circle cx="419" cy="469.8" r="2.65" fill="url(#gb)"/>
<circle cx="424.7" cy="475.9" r="2.65" fill="url(#gb)"/>
<circle cx="430.4" cy="475.9" r="2.65" fill="url(#gb)"/>
<circle cx="436.1" cy="477.8" r="2.65" fill="url(#gb)"/>
<circle cx="441.4" cy="474" r="2.65" fill="url(#gb)"/>
<circle cx="447.1" cy="477.8" r="2.65" fill="url(#gb)"/>
<circle cx="452.8" cy="480.1" r="2.65" fill="url(#gb)"/>
<circle cx="458.5" cy="475.5" r="2.6" fill="url(#gg)"/>
<circle cx="464.1" cy="478.2" r="2.6" fill="url(#gg)"/>
<circle cx="469.7" cy="475.9" r="2.6" fill="url(#gg)"/>
<circle cx="475.3" cy="469.8" r="2.6" fill="url(#gg)"/>
<circle cx="481" cy="474" r="2.6" fill="url(#gg)"/>
<circle cx="486.5" cy="475.9" r="2.6" fill="url(#gg)"/>
<circle cx="492.2" cy="474" r="2.6" fill="url(#gg)"/>
<circle cx="497.7" cy="470.2" r="2.6" fill="url(#gg)"/>
<circle cx="503.4" cy="476.3" r="2.6" fill="url(#gg)"/>
<circle cx="509.1" cy="473" r="2.6" fill="url(#gg)"/>
<circle cx="514.8" cy="471.7" r="2.6" fill="url(#gg)"/>
<circle cx="520.5" cy="479.1" r="2.6" fill="url(#gg)"/>
<circle cx="526.2" cy="475.5" r="2.6" fill="url(#gg)"/>
<circle cx="531.7" cy="473.4" r="2.6" fill="url(#gg)"/>
<circle cx="537.4" cy="480.6" r="2.6" fill="url(#gg)"/>
<circle cx="543.1" cy="477.8" r="2.6" fill="url(#gg)"/>
<circle cx="548.6" cy="476.8" r="2.6" fill="url(#gg)"/>
<circle cx="554.1" cy="475.9" r="2.6" fill="url(#gg)"/>
<circle cx="559.8" cy="473.4" r="2.6" fill="url(#gg)"/>
<circle cx="565.5" cy="475.5" r="2.6" fill="url(#gg)"/>
<circle cx="571" cy="478.2" r="2.6" fill="url(#gg)"/>
<circle cx="576.7" cy="475.5" r="2.6" fill="url(#gg)"/>
<circle cx="582.2" cy="473.6" r="2.6" fill="url(#gg)"/>
<circle cx="587.7" cy="471.1" r="2.6" fill="url(#gg)"/>
<circle cx="593.4" cy="472.7" r="2.6" fill="url(#gg)"/>
<circle cx="599.1" cy="474" r="2.6" fill="url(#gg)"/>
<line x1="527.8" y1="491.5" x2="602" y2="491.5" stroke="#ee1111" stroke-width="1.5" />
<polygon points="600,488.6 611.8,491.5 600,494.4" fill="#e51b1b"/>
<circle cx="507.3" cy="507.8" r="1.9" fill="url(#gk)"/>
<text x="529" y="513.2" font-size="15.1" text-anchor="start" font-weight="bold" fill="#000" >FE at -0.4 V</text>
<circle cx="507.3" cy="526.9" r="1.9" fill="url(#gr)"/>
<text x="529" y="532.3" font-size="15.1" text-anchor="start" font-weight="bold" fill="#000" >FE at -0.6 V</text>
<circle cx="507.3" cy="546" r="1.9" fill="url(#gb)"/>
<text x="529" y="551.4" font-size="15.1" text-anchor="start" font-weight="bold" fill="#000" >FE at -0.8 V</text>
<circle cx="507.3" cy="565.1" r="1.9" fill="url(#gg)"/>
<text x="529" y="570.5" font-size="15.1" text-anchor="start" font-weight="bold" fill="#000" >FE at -0.9 V</text>
<line x1="69.4" y1="586.1" x2="104.7" y2="586.1" stroke="#111" stroke-width="1.5" />
<circle cx="87.3" cy="586.1" r="2.2" fill="url(#gk)"/>
<text x="109.4" y="591.4" font-size="15.1" text-anchor="start" font-weight="bold" fill="#000" >-0.4 V <tspan font-style="italic">vs.</tspan> RHE</text>
<line x1="69.4" y1="605" x2="104.7" y2="605" stroke="#f01010" stroke-width="1.5" />
<circle cx="87.3" cy="605" r="2.2" fill="url(#gr)"/>
<text x="109.4" y="610.3" font-size="15.1" text-anchor="start" font-weight="bold" fill="#000" >-0.6 V <tspan font-style="italic">vs.</tspan> RHE</text>
<line x1="69.4" y1="623.9" x2="104.7" y2="623.9" stroke="#1010e0" stroke-width="1.5" />
<circle cx="87.3" cy="623.9" r="2.2" fill="url(#gb)"/>
<text x="109.4" y="629.2" font-size="15.1" text-anchor="start" font-weight="bold" fill="#000" >-0.8 V <tspan font-style="italic">vs.</tspan> RHE</text>
<line x1="69.4" y1="642.8" x2="104.7" y2="642.8" stroke="#118a11" stroke-width="1.5" />
<circle cx="87.3" cy="642.8" r="2.2" fill="url(#gg)"/>
<text x="109.4" y="648.1" font-size="15.1" text-anchor="start" font-weight="bold" fill="#000" >-0.9 V <tspan font-style="italic">vs.</tspan> RHE</text>
</svg></body></html>
